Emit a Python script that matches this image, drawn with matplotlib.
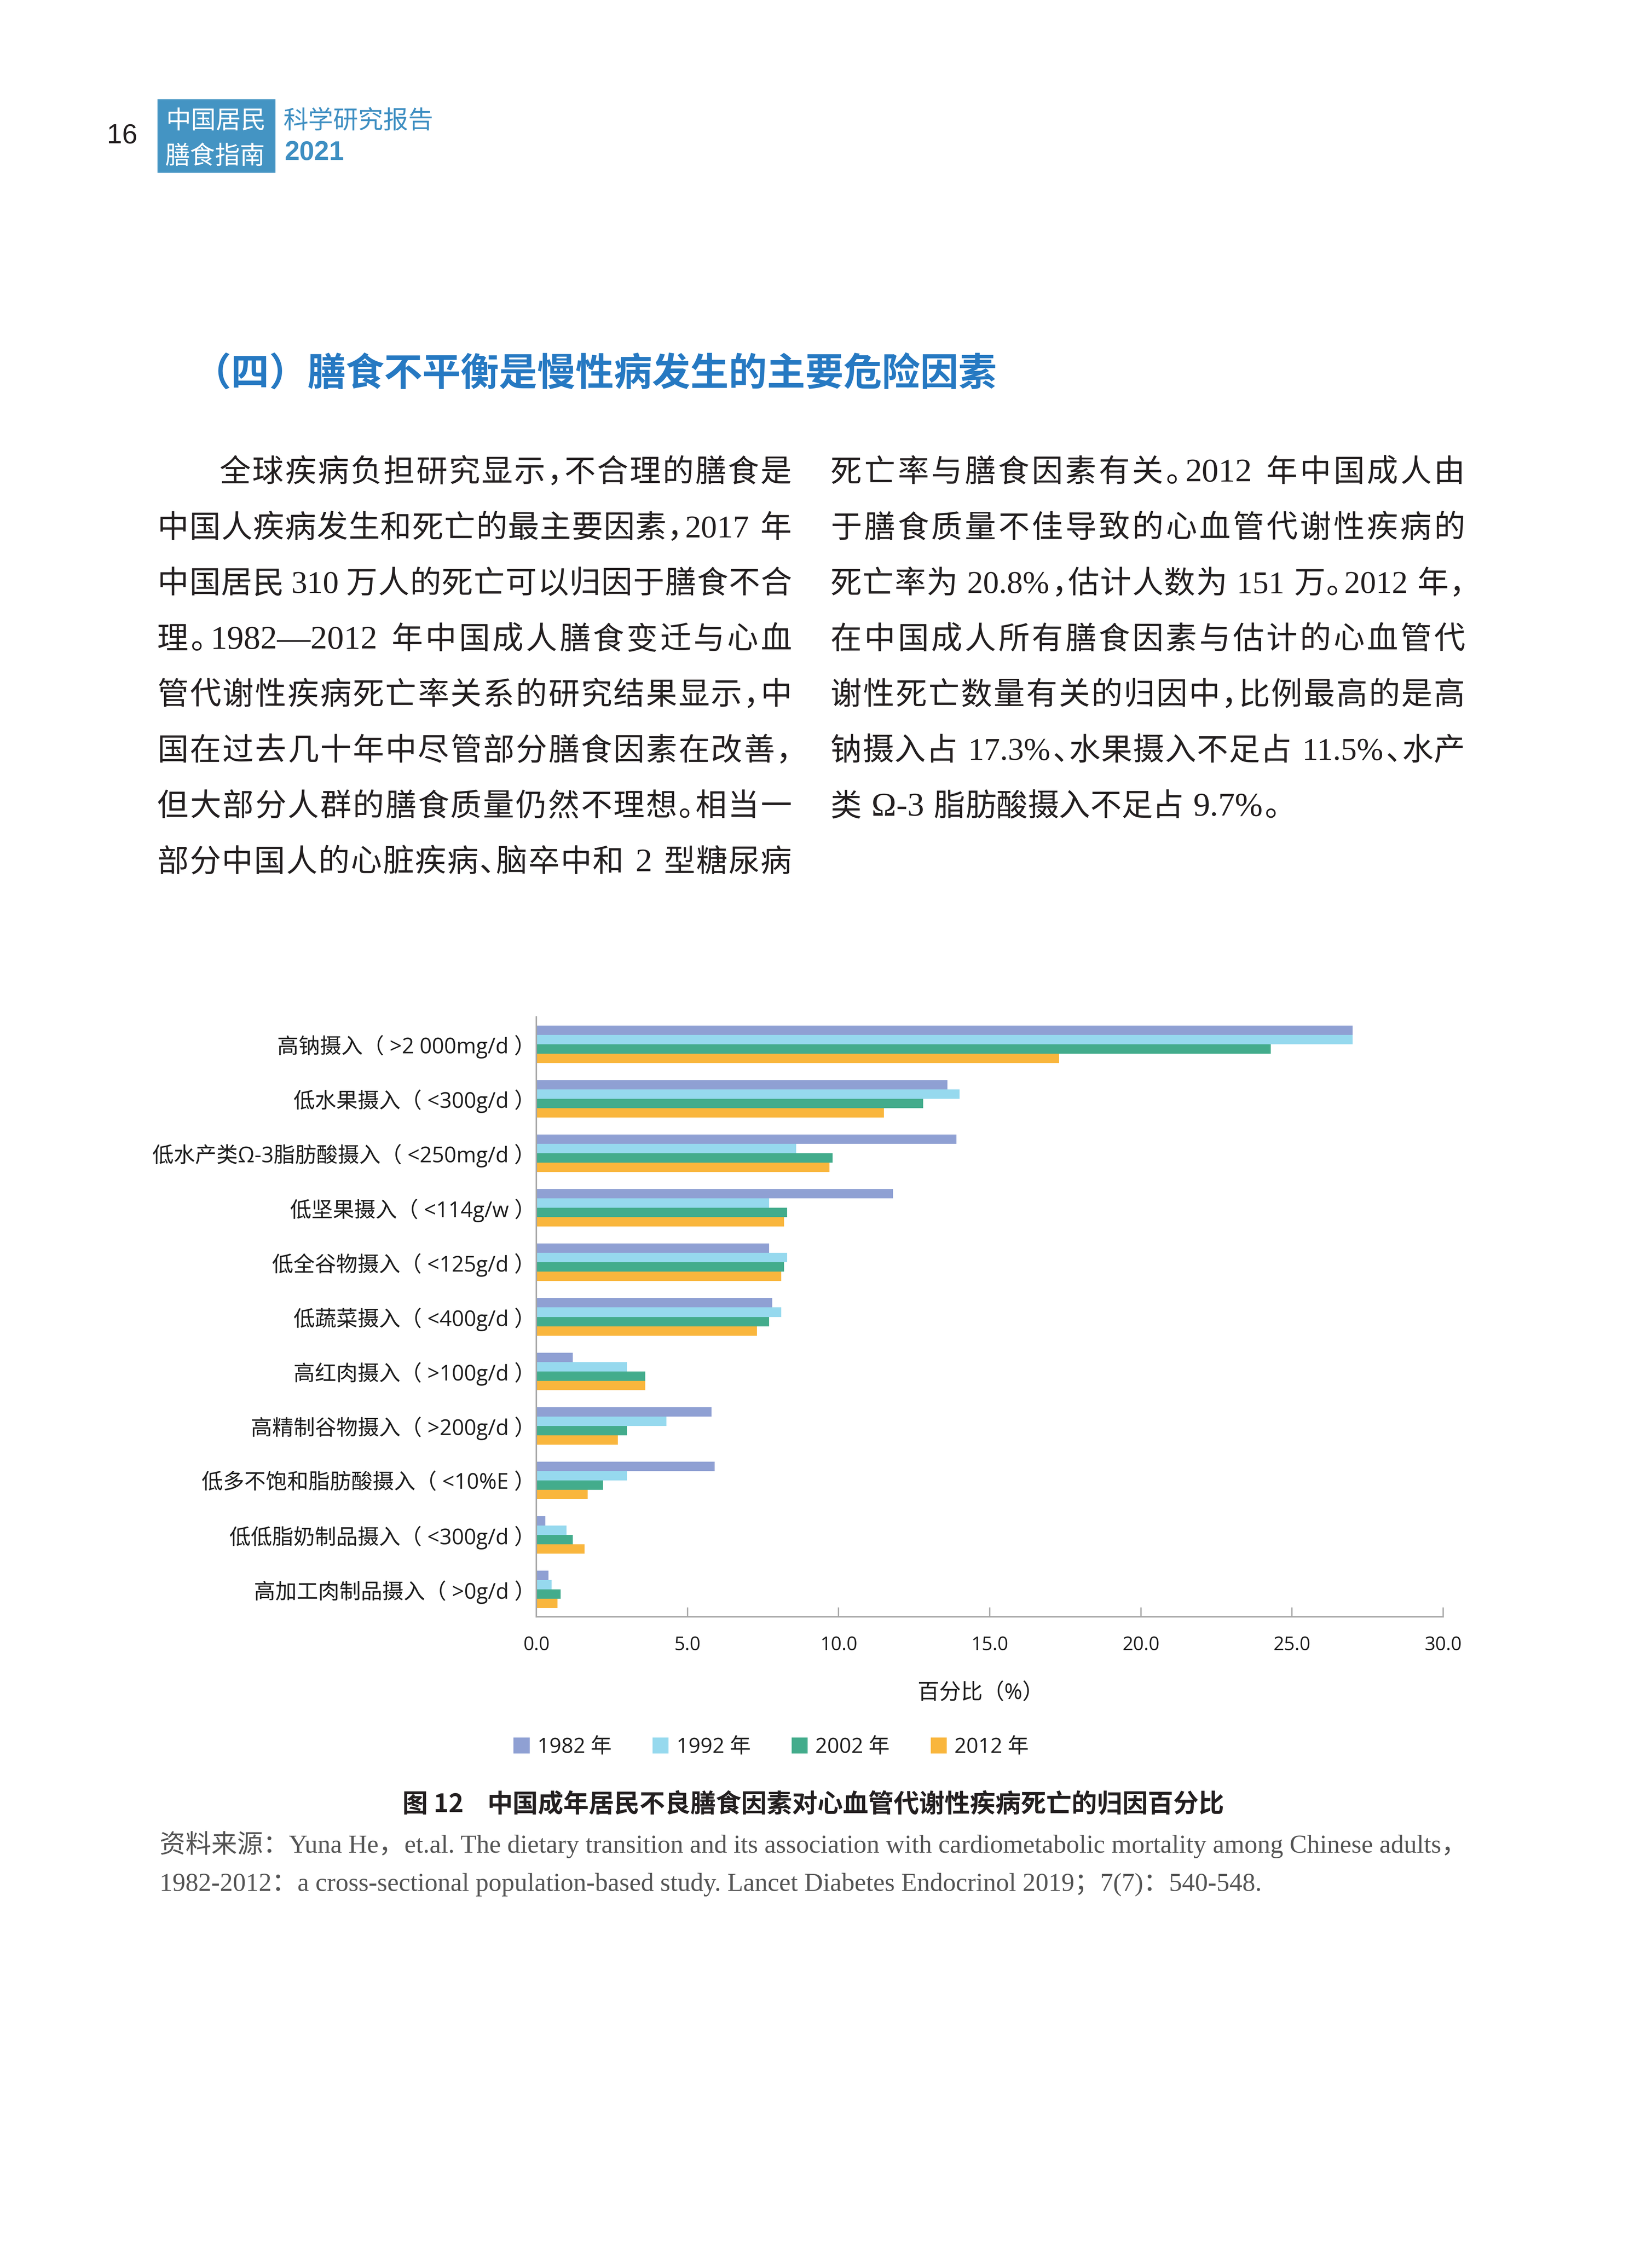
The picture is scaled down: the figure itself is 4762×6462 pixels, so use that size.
import matplotlib
matplotlib.use('Agg')
import numpy as np
from matplotlib import pyplot as plt
from matplotlib.patches import Rectangle

W, H, DPI = 4762, 6462, 300

SANS = ['Open Sans', 'Noto Sans CJK SC']
SERIF = ['Liberation Serif', 'Noto Sans CJK SC']
CJK = ['Noto Sans CJK SC']
plt.rcParams['font.family'] = SANS

# chart data (%)
categories = ['高钠摄入（ >2 000mg/d ）', '低水果摄入（ <300g/d ）', '低水产类Ω-3脂肪酸摄入（ <250mg/d ）',
              '低坚果摄入（ <114g/w ）', '低全谷物摄入（ <125g/d ）', '低蔬菜摄入（ <400g/d ）',
              '高红肉摄入（ >100g/d ）', '高精制谷物摄入（ >200g/d ）', '低多不饱和脂肪酸摄入（ <10%E ）',
              '低低脂奶制品摄入（ <300g/d ）', '高加工肉制品摄入（ >0g/d ）']
years = ['1982 年', '1992 年', '2002 年', '2012 年']
v1982 = [27.0, 13.6, 13.9, 11.8, 7.7, 7.8, 1.2, 5.8, 5.9, 0.3, 0.4]
v1992 = [27.0, 14.0, 8.6, 7.7, 8.3, 8.1, 3.0, 4.3, 3.0, 1.0, 0.5]
v2002 = [24.3, 12.8, 9.8, 8.3, 8.2, 7.7, 3.6, 3.0, 2.2, 1.2, 0.8]
v2012 = [17.3, 11.5, 9.7, 8.2, 8.1, 7.3, 3.6, 2.7, 1.7, 1.6, 0.7]
xticks = [0, 5, 10, 15, 20, 25, 30]
colors = ['#8FA0D3', '#96D9EE', '#43AC8C', '#F9B63D']

# page text
title = '（四）膳食不平衡是慢性病发生的主要危险因素'
left_lines = ['全球疾病负担研究显示，不合理的膳食是',
              '中国人疾病发生和死亡的最主要因素，2017 年',
              '中国居民 310 万人的死亡可以归因于膳食不合',
              '理。1982—2012 年中国成人膳食变迁与心血',
              '管代谢性疾病死亡率关系的研究结果显示，中',
              '国在过去几十年中尽管部分膳食因素在改善，',
              '但大部分人群的膳食质量仍然不理想。相当一',
              '部分中国人的心脏疾病、脑卒中和 2 型糖尿病']
right_lines = ['死亡率与膳食因素有关。2012 年中国成人由',
               '于膳食质量不佳导致的心血管代谢性疾病的',
               '死亡率为 20.8%，估计人数为 151 万。2012 年，',
               '在中国成人所有膳食因素与估计的心血管代',
               '谢性死亡数量有关的归因中，比例最高的是高',
               '钠摄入占 17.3%、水果摄入不足占 11.5%、水产',
               '类 Ω-3 脂肪酸摄入不足占 9.7%。']
caption_no = '图 12'
caption = '中国成年居民不良膳食因素对心血管代谢性疾病死亡的归因百分比'
source_lines = ['资料来源：Yuna He，et.al. The dietary transition and its association with cardiometabolic mortality among Chinese adults，',
                '1982-2012：a cross-sectional population-based study. Lancet Diabetes Endocrinol 2019；7(7)：540-548.']

fig = plt.figure(figsize=(W / DPI, H / DPI), dpi=DPI)
page = fig.add_axes([0, 0, 1, 1])
page.set_xlim(0, W)
page.set_ylim(H, 0)
page.axis('off')
renderer = fig.canvas.get_renderer()


def em_px(size):
    return size * DPI / 72.0


def text_width(s, size, family):
    t = page.text(0, 0, s, fontsize=size, family=family)
    w = t.get_window_extent(renderer).width
    t.remove()
    return w


def tokens_of(line):
    toks, run = [], ''
    for ch in line:
        if (ch.isascii() and ch != ' ') or ch in 'Ω—':
            run += ch
            continue
        if run:
            toks.append(('latin', run))
            run = ''
        if ch == ' ':
            toks.append(('space', ch))
        elif ch in '，、。：；':
            toks.append(('punct', ch))
        else:
            toks.append(('cjk', ch))
    if run:
        toks.append(('latin', run))
    return toks


LATIN_PAD = 0.12


def token_widths(toks, size, family, latin_size, space):
    em = em_px(size)
    widths = []
    for kind, s in toks:
        if kind == 'cjk':
            widths.append(em)
        elif kind == 'punct':
            widths.append(0.5 * em)
        elif kind == 'space':
            widths.append(space * em)
        else:
            widths.append(text_width(s, latin_size, family) + LATIN_PAD * em)
    return widths


def draw_line(line, x0, x1, yc, size, family, color, justify=True, latin_scale=1.0):
    # one line of body text, CJK set on a fixed em grid, stretched to [x0, x1]
    em = em_px(size)
    toks = tokens_of(line)
    has_latin = any(kind == 'latin' for kind, _ in toks)
    nominal = size * latin_scale
    latin_size = nominal
    space = 0.25
    widths = token_widths(toks, size, family, latin_size, space)
    for _ in range(25):
        if not (justify and has_latin) or sum(widths) + 0.02 * em * (len(toks) - 1) <= x1 - x0:
            break
        if latin_size > 0.96 * nominal:
            latin_size *= 0.99
        elif space > 0.12:
            space -= 0.02
        elif latin_size > 0.9 * nominal:
            latin_size *= 0.99
        else:
            break
        widths = token_widths(toks, size, family, latin_size, space)
    gap = (x1 - x0 - sum(widths)) / (len(toks) - 1) if justify and len(toks) > 1 else 0
    x = x0
    base = yc + 0.38 * em
    for (kind, s), w in zip(toks, widths):
        if kind == 'latin':
            page.text(x + 0.5 * LATIN_PAD * em, base, s, fontsize=latin_size, family=family, color=color,
                      ha='left', va='baseline')
        elif kind != 'space':
            page.text(x, base, s, fontsize=size, family=family, color=color, ha='left', va='baseline')
        x += w + gap


# header
page.text(352, 392, '16', family='Liberation Sans', fontsize=19, color='#231F20', ha='center', va='center')
page.add_patch(Rectangle((454, 286), 340, 212, facecolor='#4494C3', edgecolor='none'))
page.text(478, 343 + 0.38 * em_px(17.3), '中国居民', family=CJK, fontsize=17.3, fontweight='light',
          color='white', va='baseline')
page.text(476, 445 + 0.38 * em_px(17.3), '膳食指南', family=CJK, fontsize=17.3, fontweight='light',
          color='white', va='baseline')
page.text(817, 342 + 0.38 * em_px(17.3), '科学研究报告', family=CJK, fontsize=17.3, color='#3F8FC2',
          va='baseline')
page.text(820, 440, '2021', family='Liberation Sans', fontsize=18.5, fontweight='bold', color='#3F8FC2',
          va='center')

# section title
page.text(556, 1069 + 0.38 * em_px(26.5), title, family=CJK, fontsize=26.5, fontweight='bold',
          color='#2679C2', va='baseline')

# two text columns
body_size = 21.6
body_em = em_px(body_size)
line_step = 160.5
for i, line in enumerate(left_lines):
    x0 = 453 + (2 * body_em if i == 0 else 0)
    draw_line(line, x0, 2282, 1354 + i * line_step, body_size, SERIF, '#231F20', latin_scale=1.07)
for i, line in enumerate(right_lines):
    draw_line(line, 2394, 4223, 1354 + i * line_step, body_size, SERIF, '#231F20',
              justify=(i < len(right_lines) - 1), latin_scale=1.07)

# chart
ax = fig.add_axes([1546 / W, 1 - 4660 / H, (4160 - 1546) / W, (4660 - 2931) / H])
ypos = np.arange(len(categories))
bar_h = 0.172
series = [v1982, v1992, v2002, v2012]
handles = []
for k, (vals, c) in enumerate(zip(series, colors)):
    b = ax.barh(ypos + (k - 1.5) * bar_h, vals, height=bar_h, color=c, linewidth=0, label=years[k])
    handles.append(b)
ax.set_ylim(len(categories) - 0.5, -0.5)
ax.set_xlim(0, 30)
ax.set_yticks(ypos)
ax.set_yticklabels(categories, fontsize=14.8, color='#1E1E1E')
ax.set_xticks(xticks)
ax.set_xticklabels(['%.1f' % v for v in xticks], fontsize=13, color='#1E1E1E')
ax.tick_params(axis='y', length=0, pad=0.5)
ax.tick_params(axis='x', direction='in', length=6.5, width=0.9, color='#A6A6A6', pad=13)
for side in ['top', 'right']:
    ax.spines[side].set_visible(False)
for side in ['left', 'bottom']:
    ax.spines[side].set_color('#A6A6A6')
    ax.spines[side].set_linewidth(1.0)
ax.set_xlabel('百分比（%）', fontsize=15, color='#1E1E1E')
ax.xaxis.set_label_coords(0.49, -(4881 - 4660) / (4660 - 2931))
ax.xaxis.label.set_va('center')

leg = ax.legend(handles, years, loc='center left', bbox_to_anchor=(1480 / W, 1 - 5036 / H),
                bbox_transform=fig.transFigure, ncol=4, frameon=False, fontsize=14.5,
                handlelength=0.77, handleheight=0.8, handletextpad=0.37, columnspacing=1.95,
                borderpad=0, borderaxespad=0)
for t in leg.get_texts():
    t.set_color('#1E1E1E')

# caption and source
cap_size = 17.6
cap_base = 5195 + 0.38 * em_px(cap_size)
page.text(1160, cap_base, caption_no, family=CJK, fontsize=cap_size, fontweight='bold', color='#231F20',
          va='baseline')
page.text(1405, cap_base, caption, family=CJK, fontsize=cap_size, fontweight='bold', color='#231F20',
          va='baseline')
# source lines as whole strings, first line sized to fill the text width
src_size = 16.5 * (4225 - 460) / text_width(source_lines[0], 16.5, SERIF)
for i, s in enumerate(source_lines):
    page.text(460, 5312 + i * 110 + 0.38 * em_px(src_size), s, fontsize=src_size, family=SERIF,
              color='#555555', ha='left', va='baseline')

fig.savefig('out.png', dpi=DPI, facecolor='white')
plt.close(fig)
